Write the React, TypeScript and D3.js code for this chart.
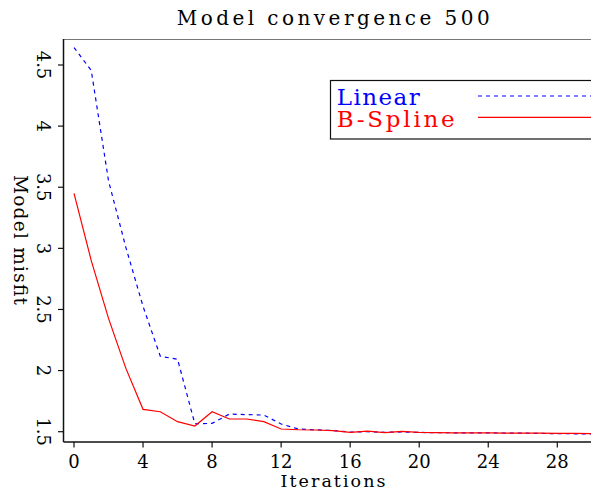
import React from "react";
import * as d3 from "d3";

const iterations: number[] = d3.range(0, 31);
const linearValues: number[] = [
  4.643, 4.455, 3.553, 3.01, 2.525, 2.117, 2.093, 1.565, 1.568, 1.644, 1.64,
  1.636, 1.563, 1.522, 1.515, 1.51, 1.497, 1.5, 1.495, 1.498, 1.494, 1.492,
  1.491, 1.49, 1.49, 1.489, 1.488, 1.486, 1.484, 1.483, 1.481,
];
const splineValues: number[] = [
  3.449, 2.9, 2.427, 2.02, 1.683, 1.663, 1.582, 1.546, 1.663, 1.604, 1.604,
  1.582, 1.522, 1.516, 1.514, 1.508, 1.495, 1.505, 1.492, 1.503, 1.494, 1.492,
  1.491, 1.49, 1.49, 1.489, 1.489, 1.488, 1.487, 1.486, 1.484,
];
const xTicks: number[] = [0, 4, 8, 12, 16, 20, 24, 28];
const yTicks: number[] = [1.5, 2, 2.5, 3, 3.5, 4, 4.5];
const seriesNames: string[] = ["Linear", "B-Spline"];
const title = "Model convergence 500";
const xLabel = "Iterations";
const yLabel = "Model misfit";

const W = 591;
const H = 498;
const left = 63.5;
const top = 39;
const bottom = 442;
const right = 602;
const FONT = "'DejaVu Serif', serif";

export default function App() {
  const x = d3.scaleLinear().domain([0, 28]).range([74, 557.3]);
  const y = d3.scaleLinear().domain([1.5, 4.5]).range([431.7, 65]);
  const line = d3
    .line<number>()
    .x((_, i) => x(iterations[i]))
    .y((d) => y(d));

  return (
    <svg
      width={W}
      height={H}
      style={{ position: "absolute", left: 0, top: 0, background: "#fff" }}
      fontFamily={FONT}
    >
      <defs>
        <clipPath id="plot">
          <rect x={left} y={top} width={right - left} height={bottom - top} />
        </clipPath>
      </defs>
      {/* title */}
      <text x={176.7} y={25} fontSize={20} textLength={313} lengthAdjust="spacing" fill="#000">
        {title}
      </text>
      {/* top frame */}
      <line x1={left} x2={W} y1={top + 0.5} y2={top + 0.5} stroke="#777" strokeWidth={1} />
      {/* axes */}
      <line x1={left} x2={left} y1={top} y2={bottom} stroke="#111" strokeWidth={1.5} />
      <line x1={left} x2={W} y1={bottom} y2={bottom} stroke="#111" strokeWidth={1.5} />
      {/* y ticks */}
      {yTicks.map((t) => (
        <g key={"y" + t}>
          <line x1={58} x2={left} y1={y(t)} y2={y(t)} stroke="#111" strokeWidth={1.2} />
          <text
            transform={`translate(37,${y(t)}) rotate(90)`}
            textAnchor="middle"
            fontSize={18}
            fill="#000"
          >
            {String(t)}
          </text>
        </g>
      ))}
      {/* x ticks */}
      {xTicks.map((t) => (
        <g key={"x" + t}>
          <line x1={x(t)} x2={x(t)} y1={bottom} y2={447.5} stroke="#111" strokeWidth={1.2} />
          <text x={x(t)} y={468.3} textAnchor="middle" fontSize={18} fill="#000">
            {String(t)}
          </text>
        </g>
      ))}
      {/* axis labels */}
      <text
        x={333}
        y={486.7}
        textAnchor="middle"
        fontSize={17.5}
        textLength={105}
        lengthAdjust="spacing"
        fill="#000"
      >
        {xLabel}
      </text>
      <text
        transform="translate(14,240) rotate(90)"
        textAnchor="middle"
        fontSize={18.5}
        textLength={130}
        lengthAdjust="spacing"
        fill="#000"
      >
        {yLabel}
      </text>
      {/* series */}
      <g clipPath="url(#plot)">
        <path d={line(linearValues) || ""} fill="none" stroke="#0000ff" strokeWidth={1.2} strokeDasharray="4,4" />
        <path d={line(splineValues) || ""} fill="none" stroke="#ff0000" strokeWidth={1.2} />
      </g>
      {/* legend */}
      <rect x={330.5} y={80.5} width={300} height={58.5} fill="#fff" stroke="#111" strokeWidth={1.2} />
      <text x={336.7} y={105} fontSize={23} textLength={83} lengthAdjust="spacing" fill="#0000ff">
        {seriesNames[0]}
      </text>
      <text x={336.7} y={126.7} fontSize={23} textLength={118} lengthAdjust="spacing" fill="#ff0000">
        {seriesNames[1]}
      </text>
      <line x1={478} x2={W} y1={96} y2={96} stroke="#0000ff" strokeWidth={1.2} strokeDasharray="4,4" />
      <line x1={478} x2={W} y1={117.3} y2={117.3} stroke="#ff0000" strokeWidth={1.2} />
    </svg>
  );
}
